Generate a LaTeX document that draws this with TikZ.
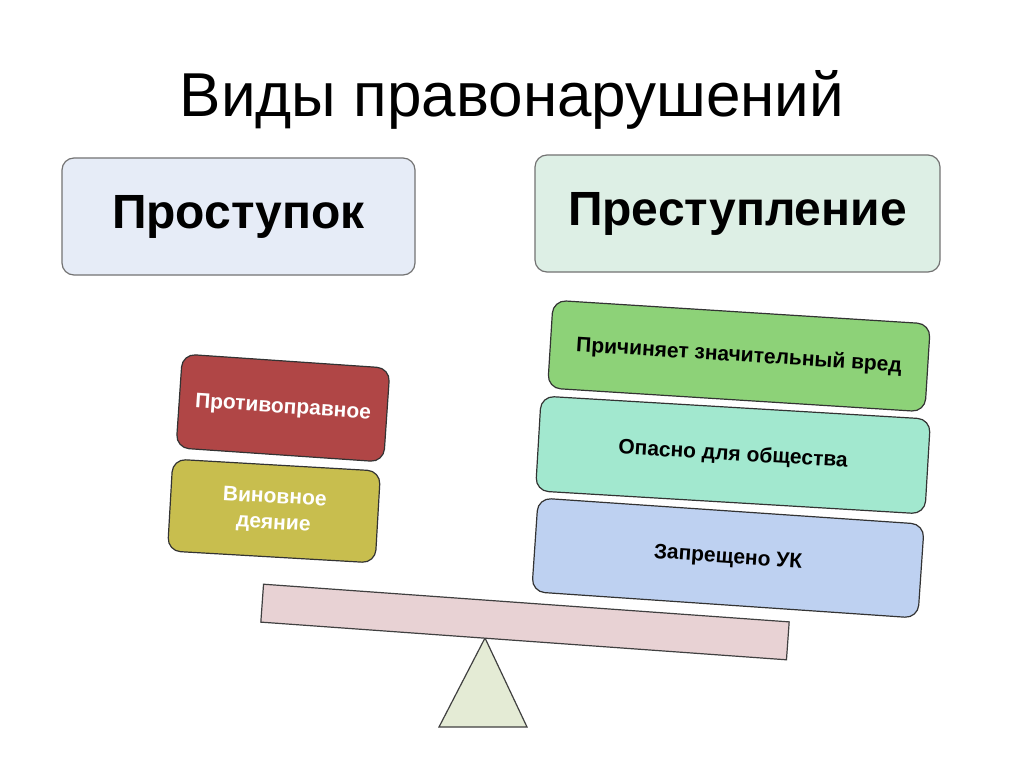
\documentclass[tikz,border=0pt]{standalone}
\usepackage{fontspec}
\setmainfont{Liberation Sans}
\begin{document}
\begin{tikzpicture}[x=1pt,y=-1pt,
  topbox/.style={draw=black!55,line width=1.2pt,rounded corners=12pt,minimum height=117pt,inner sep=0pt,font=\fontsize{48}{56}\selectfont\bfseries},
  tiltbox/.style={draw=black!80,line width=1.2pt,rounded corners=13pt,inner sep=0pt,align=center,font=\fontsize{21}{26}\selectfont\bfseries},
  beamstyle/.style={draw=black!75,line width=1.2pt,fill=beamc,inner sep=0pt}]
\definecolor{blueA}{HTML}{E6ECF7}
\definecolor{greenA}{HTML}{DDEFE5}
\definecolor{redc}{HTML}{B04646}
\definecolor{olivec}{HTML}{C8BE4E}
\definecolor{greenc}{HTML}{8DD278}
\definecolor{mintc}{HTML}{A2E8CF}
\definecolor{bluec}{HTML}{BED1F1}
\definecolor{beamc}{HTML}{E8D2D4}
\definecolor{trianc}{HTML}{E4EBD5}
\useasboundingbox[fill=white] (0,0) rectangle (1024,767);
% title
\node (title) at (512,100) {\fontsize{62}{70}\selectfont Виды правонарушений};
% top boxes
\node[topbox,fill=blueA,minimum width=353pt] (prost) at (238.5,216.5) {Проступок};
\node[topbox,fill=greenA,minimum width=405pt] (prest) at (737.5,213.5) {Преступление};
% fulcrum
\draw[draw=black!75,line width=1.2pt,fill=trianc] (485,638) -- (527,727) -- (439,727) -- cycle;
% beam
\node[beamstyle,minimum width=527pt,minimum height=38pt,rotate=-4.1] (beam) at (525,622) {};
% left stack
\node[tiltbox,fill=redc,text=white,minimum width=208pt,minimum height=94pt,rotate=-3.9] (prot) at (283,408) {Противоправное};
\node[tiltbox,fill=olivec,text=white,minimum width=208pt,minimum height=92pt,rotate=-3.3] (vin) at (274,511) {Виновное\\деяние};
% right stack
\node[tiltbox,fill=greenc,minimum width=378pt,minimum height=88pt,rotate=-3.6] (vred) at (739,356) {Причиняет значительный вред};
\node[tiltbox,fill=mintc,minimum width=390pt,minimum height=95pt,rotate=-3.4] (opas) at (733,455) {Опасно для общества};
\node[tiltbox,fill=bluec,minimum width=387pt,minimum height=94pt,rotate=-3.9] (uk) at (728,558) {Запрещено УК};
\end{tikzpicture}
\end{document}
